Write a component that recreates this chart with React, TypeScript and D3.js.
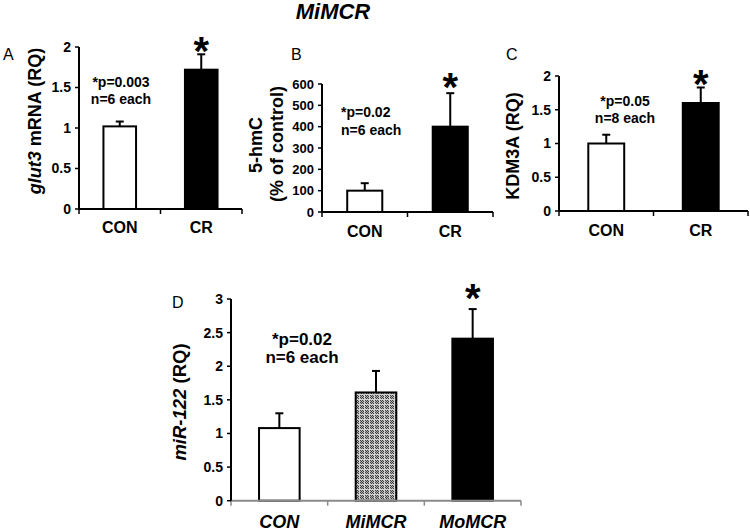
import React from 'react';
import * as d3 from 'd3';

// ---------- data ----------
const catsCR = ['CON', 'CR'];
const glut3Values = [1.02, 1.72];
const glut3ErrTop = [1.08, 1.91];
const hmcValues = [100, 400];
const hmcErrTop = [135, 557];
const kdmValues = [1.0, 1.6];
const kdmErrTop = [1.13, 1.83];
const catsD = ['CON', 'MiMCR', 'MoMCR'];
const mirValues = [1.08, 1.61, 2.41];
const mirErrTop = [1.3, 1.93, 2.85];
const ticksRQ2 = [0, 0.5, 1, 1.5, 2];
const ticksPct = [0, 100, 200, 300, 400, 500, 600];
const ticksRQ3 = [0, 0.5, 1, 1.5, 2, 2.5, 3];

const FONT = '"Liberation Sans", Arial, Helvetica, sans-serif';

type PanelProps = {
  x0: number; x1: number; yBot: number; yTop: number; max: number;
  ticks: number[]; cats: string[]; values: number[]; errTop: number[];
  fills: string[]; barFrac: number; tickSize: number; catSize: number;
  catItalic?: boolean; xAxisColor?: string; catBaseline: number;
  starIndex: number; starGap: number;
};

function Panel(p: PanelProps) {
  const y = d3.scaleLinear().domain([0, p.max]).range([p.yBot, p.yTop]);
  const x = d3.scaleBand().domain(p.cats).range([p.x0, p.x1]).paddingInner(0).paddingOuter(0);
  const bw = x.bandwidth() * p.barFrac;
  const axisColor = p.xAxisColor || '#000';
  const starCx = (x(p.cats[p.starIndex]) as number) + x.bandwidth() / 2;
  const starCy = y(p.errTop[p.starIndex]) - p.starGap;
  const starSize = 40;
  return (
    <g>
      {p.cats.map((c, i) => {
        const cx = (x(c) as number) + x.bandwidth() / 2;
        const top = y(p.values[i]);
        const et = y(p.errTop[i]);
        return (
          <g key={c}>
            <line x1={cx} x2={cx} y1={top} y2={et} stroke="#000" strokeWidth={2} />
            <line x1={cx - 4} x2={cx + 4} y1={et} y2={et} stroke="#000" strokeWidth={2} />
            <rect x={cx - bw / 2} y={top} width={bw} height={p.yBot - top}
              fill={p.fills[i]} stroke="#000" strokeWidth={2} />
          </g>
        );
      })}
      <line x1={p.x0} x2={p.x1} y1={p.yBot} y2={p.yBot} stroke={axisColor} strokeWidth={2} />
      {p.cats.map((c, i) => {
        const bx = (x(c) as number) + x.bandwidth();
        return <line key={'xt' + i} x1={bx} x2={bx} y1={p.yBot} y2={p.yBot + 5} stroke={axisColor} strokeWidth={1.5} />;
      })}
      <line x1={p.x0} x2={p.x0} y1={p.yBot} y2={p.yBot + 5} stroke={axisColor} strokeWidth={1.5} />
      {p.cats.map((c) => (
        <text key={'xl' + c} x={(x(c) as number) + x.bandwidth() / 2} y={p.catBaseline}
          textAnchor="middle" fontFamily={FONT} fontWeight="bold" fontSize={p.catSize}
          fontStyle={p.catItalic ? 'italic' : 'normal'}>{c}</text>
      ))}
      <line x1={p.x0} x2={p.x0} y1={p.yBot} y2={p.yTop} stroke="#000" strokeWidth={2} />
      {p.ticks.map((t) => (
        <g key={'yt' + t}>
          <line x1={p.x0 - 4} x2={p.x0} y1={y(t)} y2={y(t)} stroke="#000" strokeWidth={1.5} />
          <text x={p.x0 - 8} y={y(t)} dy="0.35em" textAnchor="end" fontFamily={FONT}
            fontWeight="bold" fontSize={p.tickSize}>{String(t)}</text>
        </g>
      ))}
      <text x={starCx} y={starCy + starSize * 0.56} textAnchor="middle" fontFamily={FONT}
        fontWeight="bold" fontSize={starSize}>*</text>
    </g>
  );
}

function Annot({ x, y1, y2, size, anchor, l1, l2 }: any) {
  return (
    <g fontFamily={FONT} fontWeight="bold" fontSize={size} textAnchor={anchor}>
      <text x={x} y={y1}>{l1}</text>
      <text x={x} y={y2}>{l2}</text>
    </g>
  );
}

export default function App() {
  return (
    <svg width={750} height={532} style={{ position: 'absolute', left: 0, top: 0, background: '#fff' }}>
      <defs>
        <pattern id="fine" width={2} height={2} patternUnits="userSpaceOnUse">
          <rect width={2} height={2} fill="#b4b4b4" />
          <rect width={1} height={1} fill="#3c3c3c" />
          <rect x={1} y={1} width={1} height={1} fill="#3c3c3c" />
        </pattern>
        <pattern id="checker" width={5} height={5} patternUnits="userSpaceOnUse">
          <rect width={5} height={5} fill="#d4d4d4" />
          <rect width={4} height={4} fill="url(#fine)" />
        </pattern>
      </defs>
      <rect width={750} height={532} fill="#fff" />

      <text x={333} y={19} textAnchor="middle" fontFamily={FONT} fontWeight="bold"
        fontStyle="italic" fontSize={22}>MiMCR</text>

      <g fontFamily={FONT} fontSize={16}>
        <text x={3} y={60}>A</text>
        <text x={291} y={60}>B</text>
        <text x={506} y={60}>C</text>
        <text x={172} y={308}>D</text>
      </g>

      {/* A */}
      <Panel x0={79} x1={242} yBot={209} yTop={47} max={2} ticks={ticksRQ2} cats={catsCR}
        values={glut3Values} errTop={glut3ErrTop} fills={['#fff', '#000']} barFrac={0.4}
        tickSize={14} catSize={16} catBaseline={233} starIndex={1} starGap={12} />
      <text transform="translate(35,121) rotate(-90)" textAnchor="middle" dy="0.35em"
        fontFamily={FONT} fontWeight="bold" fontSize={18}>
        <tspan fontStyle="italic">glut3</tspan> mRNA (RQ)
      </text>
      <Annot x={121} y1={87} y2={104} size={14} anchor="middle" l1="*p=0.003" l2="n=6 each" />

      {/* B */}
      <Panel x0={322} x1={493} yBot={212} yTop={84} max={600} ticks={ticksPct} cats={catsCR}
        values={hmcValues} errTop={hmcErrTop} fills={['#fff', '#000']} barFrac={0.41}
        tickSize={13} catSize={16} catBaseline={237} starIndex={1} starGap={15} />
      <text transform="translate(256,145) rotate(-90)" textAnchor="middle" dy="0.35em"
        fontFamily={FONT} fontWeight="bold" fontSize={18}>5-hmC</text>
      <text transform="translate(277,144) rotate(-90)" textAnchor="middle" dy="0.35em"
        fontFamily={FONT} fontWeight="bold" fontSize={18}>(% of control)</text>
      <Annot x={341} y1={117} y2={135} size={14} anchor="start" l1="*p=0.02" l2="n=6 each" />

      {/* C */}
      <Panel x0={559} x1={748} yBot={211} yTop={76} max={2} ticks={ticksRQ2} cats={catsCR}
        values={kdmValues} errTop={kdmErrTop} fills={['#fff', '#000']} barFrac={0.38}
        tickSize={14} catSize={16} catBaseline={236} starIndex={1} starGap={12} />
      <text transform="translate(513,146) rotate(-90)" textAnchor="middle" dy="0.35em"
        fontFamily={FONT} fontWeight="bold" fontSize={18}>KDM3A (RQ)</text>
      <Annot x={625} y1={106} y2={123} size={14} anchor="middle" l1="*p=0.05" l2="n=8 each" />

      {/* D */}
      <Panel x0={231} x1={521} yBot={500.7} yTop={299} max={3} ticks={ticksRQ3} cats={catsD}
        values={mirValues} errTop={mirErrTop} fills={['#fff', 'url(#checker)', '#000']} barFrac={0.42}
        tickSize={14} catSize={18} catItalic xAxisColor="#8a8a8a" catBaseline={528}
        starIndex={2} starGap={19} />
      <text transform="translate(180,402) rotate(-90)" textAnchor="middle" dy="0.35em"
        fontFamily={FONT} fontWeight="bold" fontSize={18.5}>
        <tspan fontStyle="italic">miR-122</tspan> (RQ)
      </text>
      <Annot x={302} y1={345} y2={363} size={17} anchor="middle" l1="*p=0.02" l2="n=6 each" />
    </svg>
  );
}
